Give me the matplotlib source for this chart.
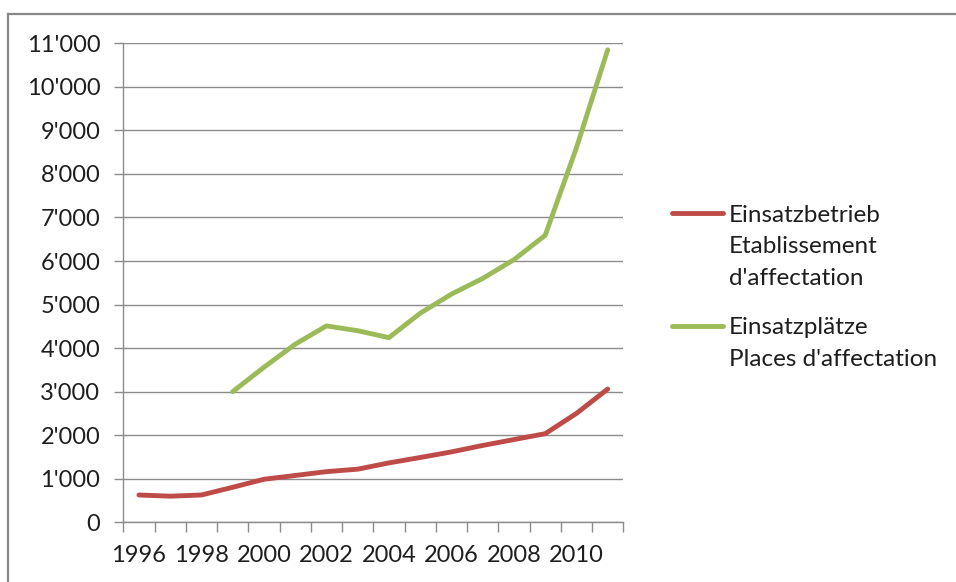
import numpy as np
import matplotlib
matplotlib.use("Agg")
import matplotlib.pyplot as plt
from matplotlib.lines import Line2D
from matplotlib.ticker import FuncFormatter, FixedLocator

years = list(range(1996, 2012))
betrieb = [627, 600, 627, 804, 988, 1075, 1163, 1220, 1364, 1488, 1617, 1765, 1900, 2035, 2500, 3060]
plaetze = [np.nan, np.nan, np.nan, 3000, 3560, 4090, 4510, 4400, 4240, 4800, 5240, 5600, 6030, 6590, 8600, 10850]
labels = ["Einsatzbetrieb\nEtablissement\nd'affectation", "Einsatzplätze\nPlaces d'affectation"]
colors = ["#BE4B48", "#9BBB59"]

W, H = 956, 582
plt.rcParams["font.family"] = ["Lato", "DejaVu Sans"]
txt = "#1e1e1e"
grid_c = "#8c8c8c"
fs = 17

fig = plt.figure(figsize=(W / 100, H / 100), dpi=100)
ax = fig.add_axes([123.3 / W, 1 - 522.3 / H, 500 / W, 479 / H])

x = np.arange(len(years))
for vals, c in zip([betrieb, plaetze], colors):
    ax.plot(x, vals, color=c, lw=3.5, solid_capstyle="round", solid_joinstyle="round", zorder=3)

ax.set_xlim(-0.5, len(years) - 0.5)
ax.set_ylim(0, 11000)
ax.set_yticks(np.arange(0, 11001, 1000))
ax.yaxis.set_major_formatter(FuncFormatter(lambda v, p: f"{int(v):,}".replace(",", "'")))
ax.grid(axis="y", color=grid_c, lw=1.0, zorder=1)
ax.set_axisbelow(True)

ax.xaxis.set_major_locator(FixedLocator(np.arange(-0.5, len(years), 1.0)))
ax.xaxis.set_major_formatter(FuncFormatter(lambda v, p: ""))
ax.xaxis.set_minor_locator(FixedLocator(x[::2]))
ax.set_xticklabels([str(y) for y in years[::2]], minor=True)
ax.tick_params(axis="x", which="major", length=7, width=1.0, color=grid_c, direction="out")
ax.tick_params(axis="x", which="minor", length=0, pad=16, labelsize=fs, labelcolor=txt)
ax.tick_params(axis="y", length=6.5, width=1.0, color=grid_c, pad=10, labelsize=fs, labelcolor=txt)

for s in ["top", "right"]:
    ax.spines[s].set_visible(False)
for s in ["left", "bottom"]:
    ax.spines[s].set_color(grid_c)
    ax.spines[s].set_linewidth(1.0)

# legend drawn by hand so the line sits at the first text row
leg_y = [213, 326]
row = 31.7
for lab, c, y0 in zip(labels, colors, leg_y):
    fig.add_artist(Line2D([672 / W, 723 / W], [1 - y0 / H, 1 - y0 / H], color=c, lw=3.5,
                          solid_capstyle="round"))
    for i, line in enumerate(lab.split("\n")):
        fig.text(729 / W, 1 - (y0 + 8.5 + i * row) / H, line, fontsize=fs + 0.5, color=txt,
                 ha="left", va="baseline")

# outer frame (left and top edges visible)
fig.add_artist(Line2D([7.5 / W, 7.5 / W], [0, 1 - 13.5 / H], color="#888888", lw=1.6))
fig.add_artist(Line2D([7.5 / W, 1], [1 - 13.5 / H, 1 - 13.5 / H], color="#888888", lw=1.6))

fig.savefig("out.png", dpi=100)
